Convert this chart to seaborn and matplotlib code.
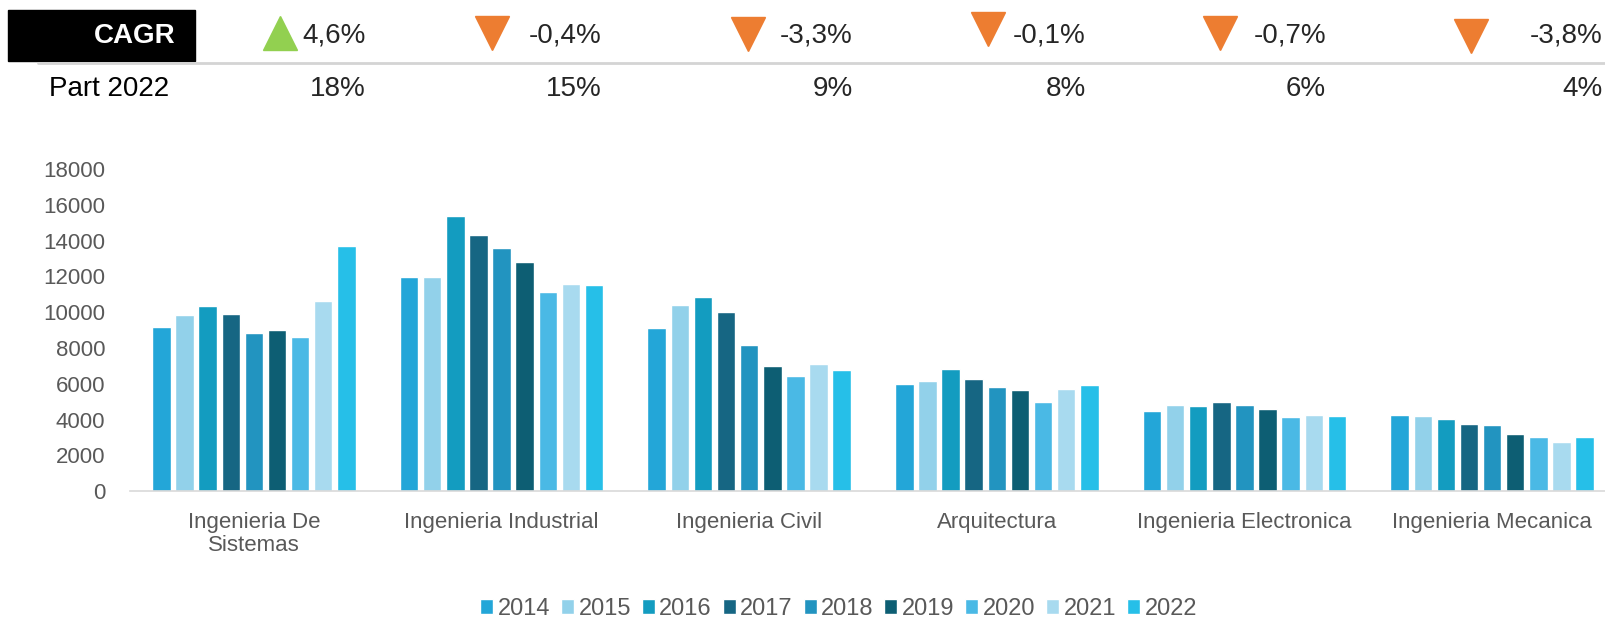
import numpy as np
import pandas as pd
import seaborn as sns
import matplotlib.pyplot as plt
from matplotlib.lines import Line2D

# Data
years = ['2014', '2015', '2016', '2017', '2018', '2019', '2020', '2021', '2022']
careers = ['Ingenieria De\nSistemas', 'Ingenieria Industrial', 'Ingenieria Civil',
           'Arquitectura', 'Ingenieria Electronica', 'Ingenieria Mecanica']

sistemas = [9150, 9830, 10320, 9890, 8830, 8990, 8640, 10610, 13690]
industrial = [11960, 11960, 15350, 14320, 13560, 12790, 11120, 11560, 11510]
civil = [9120, 10390, 10840, 10000, 8140, 7020, 6460, 7080, 6760]
arquitectura = [5960, 6130, 6800, 6240, 5810, 5680, 5010, 5700, 5920]
electronica = [4470, 4800, 4750, 4970, 4800, 4580, 4170, 4280, 4190]
mecanica = [4280, 4210, 4020, 3740, 3670, 3180, 3020, 2740, 3020]

cagr = ['4,6%', '-0,4%', '-3,3%', '-0,1%', '-0,7%', '-3,8%']
cagr_up = [True, False, False, False, False, False]
part_2022 = ['18%', '15%', '9%', '8%', '6%', '4%']

palette = ['#23A6D8', '#92D1EA', '#139CC0', '#166683', '#2294C0',
           '#0D5E73', '#4AB9E5', '#A8DAEF', '#26BFE8']

series = [sistemas, industrial, civil, arquitectura, electronica, mecanica]
rows = []
for career, vals in zip(careers, series):
    for yr, v in zip(years, vals):
        rows.append({'career': career, 'year': yr, 'value': v})
df = pd.DataFrame(rows)

sns.set_theme(style='white')
plt.rcParams['font.family'] = ['Liberation Sans', 'DejaVu Sans']

fig = plt.figure(figsize=(16.06, 6.21), dpi=100)
ax = fig.add_axes([0.081, 0.209, 0.919, 0.519])

sns.barplot(data=df, x='career', y='value', hue='year', hue_order=years,
            palette=palette, width=0.84, gap=0.2, saturation=1,
            errorbar=None, ax=ax, legend=True)

ax.set_ylim(0, 18000)
ax.set_yticks(range(0, 18001, 2000))
ax.set_xlim(-0.5, 5.46)
ax.set_xlabel('')
ax.set_ylabel('')
ax.tick_params(axis='both', length=0, labelsize=16, labelcolor='#595959')
ax.tick_params(axis='x', pad=15)
ax.tick_params(axis='y', pad=18)
for lbl in ax.get_xticklabels():
    lbl.set_linespacing(1.15)
for s in ['top', 'right', 'left']:
    ax.spines[s].set_visible(False)
ax.spines['bottom'].set_color('#D9D9D9')
ax.spines['bottom'].set_linewidth(1.2)

ax.legend(loc='center', bbox_to_anchor=(0.48, -0.365), ncol=9, frameon=False,
          fontsize=17, labelcolor='#595959', handlelength=0.55, handleheight=0.55,
          handletextpad=0.2, columnspacing=0.45)

# CAGR / Part 2022 table above the chart
W, H = 1606, 621
def fx(px):
    return px / W
def fy(py):
    return 1 - py / H

fig.patches.append(plt.Rectangle((fx(8), fy(61)), fx(187), 51 / H,
                                 transform=fig.transFigure, color='black'))
fig.text(fx(176), fy(36), 'CAGR', color='white', fontsize=20, fontweight='bold',
         ha='right', va='center')
fig.add_artist(Line2D([fx(38), 1.0], [fy(63), fy(63)], transform=fig.transFigure,
                      color='#D4D4D4', lw=2))
fig.text(fx(49), fy(89), 'Part 2022', color='black', fontsize=20, ha='left', va='center')

text_right = [366, 602, 853, 1086, 1326, 1603]
tri_x = [280, 492, 748, 988, 1220, 1471]
tri_y = [33, 33, 34, 29, 33, 36]
for i in range(len(cagr)):
    fig.text(fx(text_right[i]), fy(36), cagr[i], fontsize=20, ha='right', va='center')
    fig.text(fx(text_right[i]), fy(89), part_2022[i], fontsize=20, ha='right', va='center')
    marker = '^' if cagr_up[i] else 'v'
    color = '#92D050' if cagr_up[i] else '#ED7D31'
    fig.add_artist(Line2D([fx(tri_x[i])], [fy(tri_y[i])], transform=fig.transFigure,
                          marker=marker, markersize=24, color=color, lw=0))

fig.savefig('out.png', dpi=100)
